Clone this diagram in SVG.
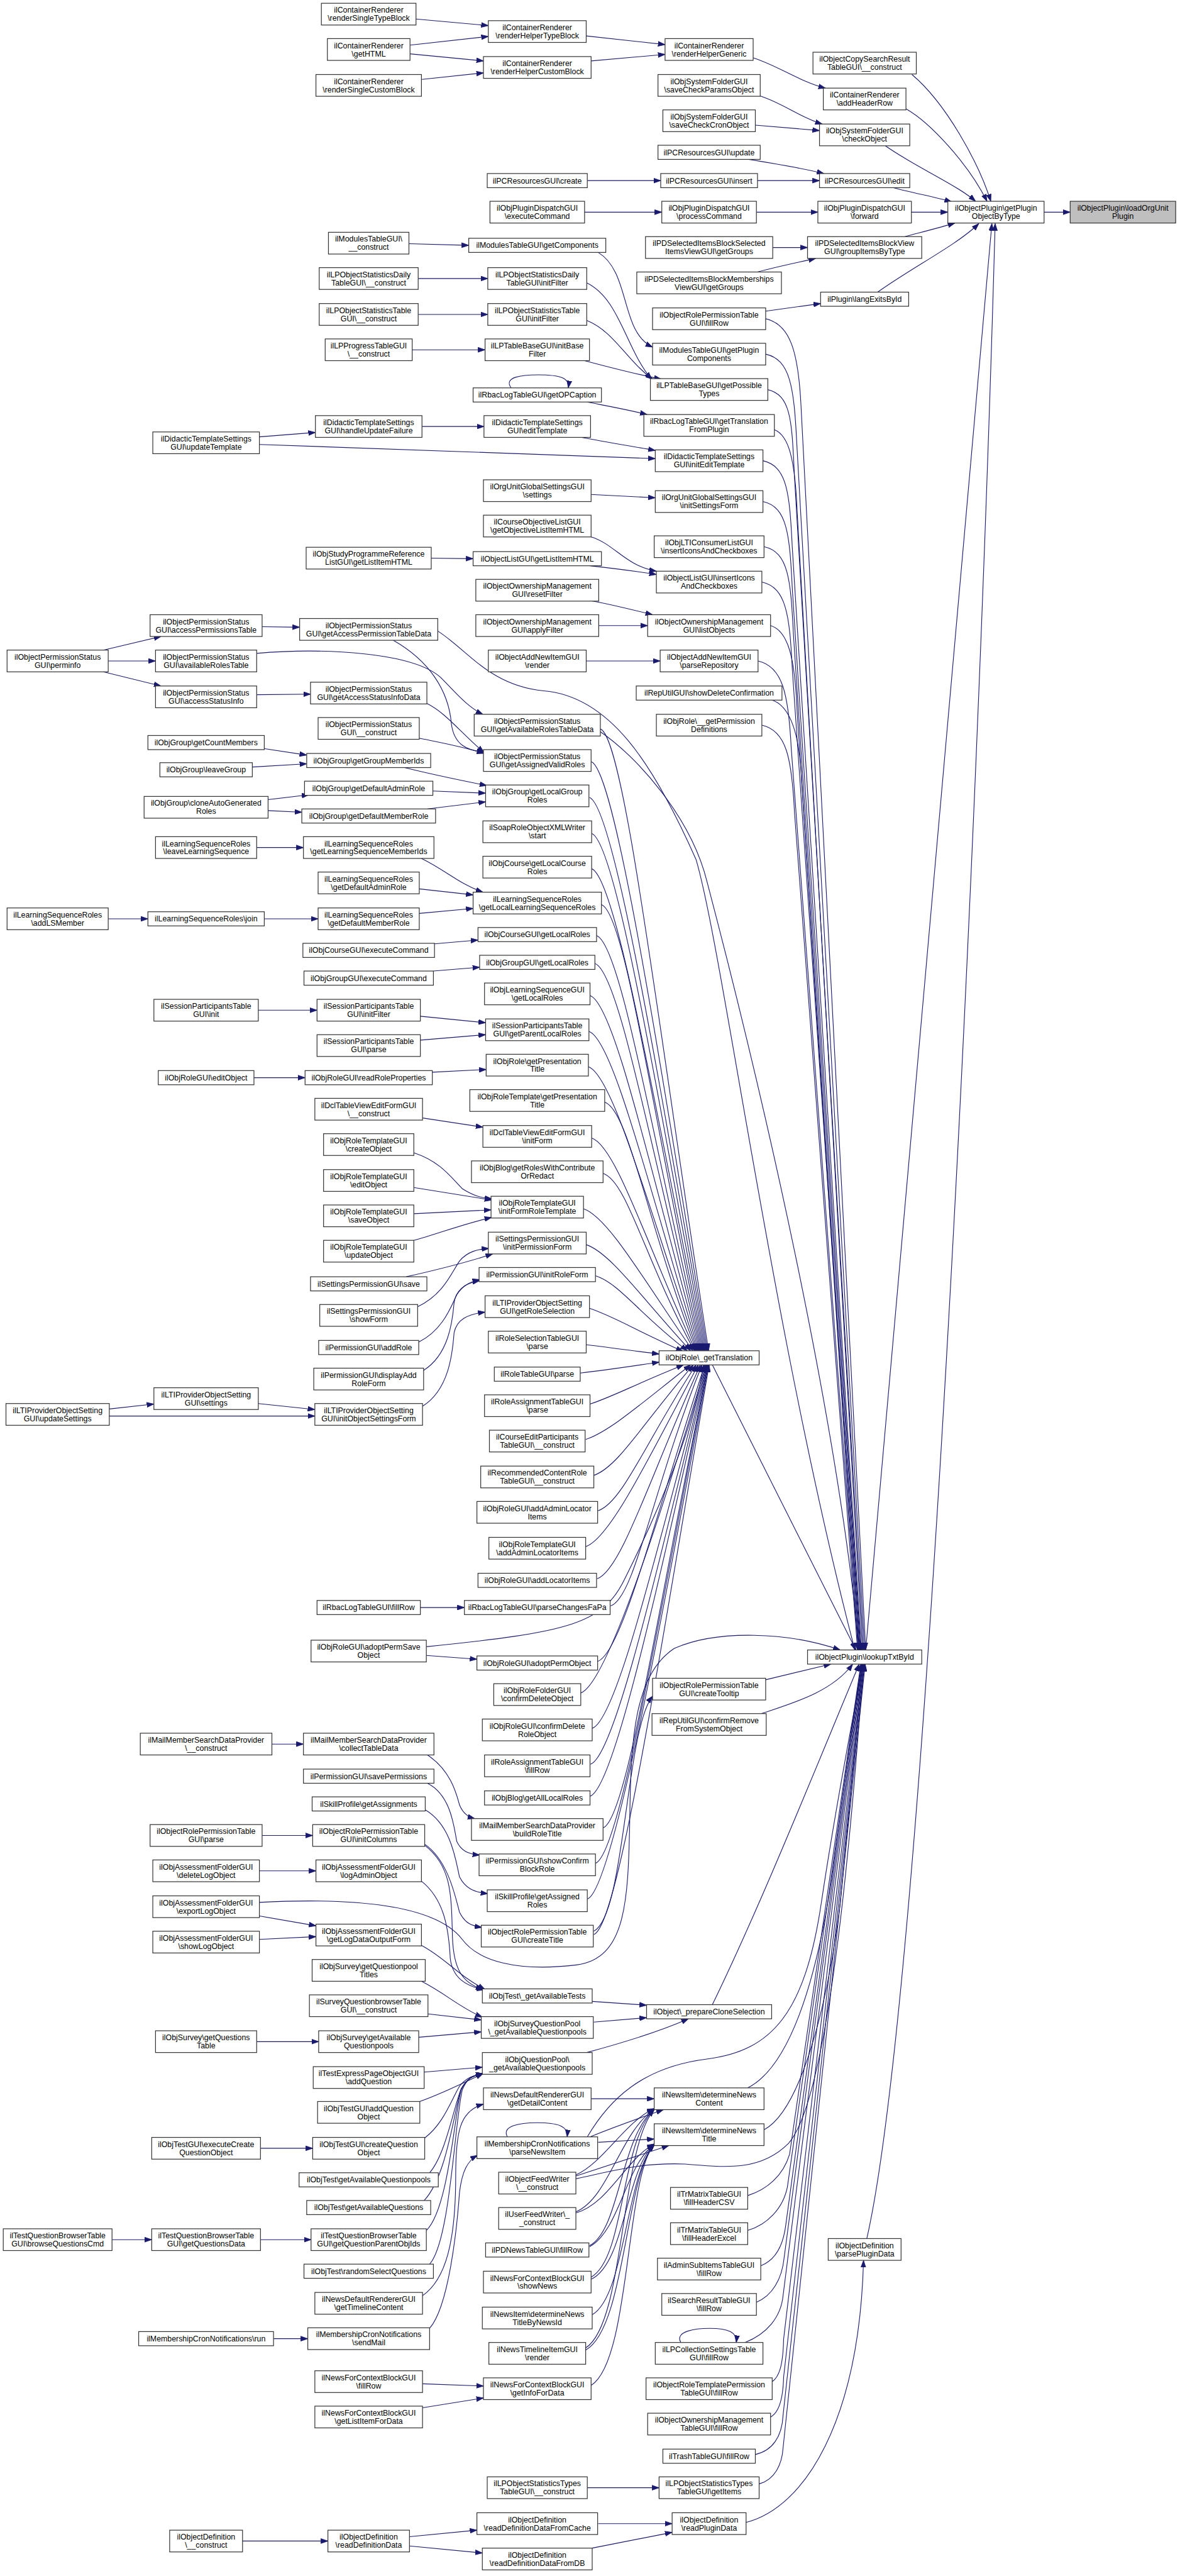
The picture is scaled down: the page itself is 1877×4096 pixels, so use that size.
<svg xmlns="http://www.w3.org/2000/svg" width="1877" height="4096" viewBox="0 0 1877 4096">
<defs>
<style>
.n rect{fill:#fff;stroke:#333;stroke-width:1.4}
.hl rect{fill:#bfbfbf}
.n text{font-family:"Liberation Sans",Arial,Helvetica,sans-serif;font-size:14.3px;text-anchor:middle;fill:#000}
.e path{fill:none;stroke:#191970;stroke-width:1.3;marker-end:url(#a)}
</style>
<marker id="a" markerUnits="userSpaceOnUse" markerWidth="14" markerHeight="10" viewBox="0 0 14 10" refX="13" refY="5" orient="auto"><path d="M0,0.5 L13,5 L0,9.5 z" fill="#191970" stroke="#191970"/></marker>
</defs>
<rect width="1877" height="4096" fill="#fff"/>
<g transform="scale(0.865)">
<g id="edges" class="e">
<path d="M1920,390 L1968,390"/>
<path d="M1677,137 C1740,190 1800,300 1822,370"/>
<path d="M1666,200 C1710,225 1780,300 1815,370"/>
<path d="M1628,268 C1680,305 1760,340 1794,370"/>
<path d="M1643,345 C1680,355 1720,362 1750,371"/>
<path d="M1676,390 L1743,390"/>
<path d="M1664,435 C1690,428 1730,418 1756,410"/>
<path d="M1614,537 C1680,490 1760,450 1800,411"/>
<path d="M1592,3033 L1824,411"/>
<path d="M1594,4115 C1700,3650 1800,1500 1830,411"/>
<path d="M1384,106 C1430,120 1470,150 1518,162"/>
<path d="M1397,176 C1440,190 1470,215 1512,228"/>
<path d="M1389,230 L1507,240"/>
<path d="M1377,293 C1420,300 1480,310 1515,319"/>
<path d="M1393,332 L1507,332"/>
<path d="M1391,390 L1504,390"/>
<path d="M1421,455 L1485,455"/>
<path d="M1393,500 C1430,490 1470,482 1500,475"/>
<path d="M1408,572 L1509,558"/>
<path d="M1371,4637 C1480,4610 1580,4450 1588,4155"/>
<path d="M1078,66 L1223,82"/>
<path d="M1087,112 L1223,100"/>
<path d="M1080,332 L1215,332"/>
<path d="M1075,390 L1217,390"/>
<path d="M1100,464 C1160,500 1140,610 1200,638"/>
<path d="M1079,520 C1140,550 1150,640 1198,697"/>
<path d="M1079,589 C1130,610 1150,660 1200,697"/>
<path d="M1075,663 C1120,675 1170,688 1216,697"/>
<path d="M1080,739 C1110,745 1150,752 1190,762"/>
<path d="M1070,804 C1110,812 1160,820 1205,828"/>
<path d="M477,817 L1205,843"/>
<path d="M1087,909 L1205,915"/>
<path d="M1087,987 C1130,1000 1150,1040 1207,1050"/>
<path d="M1085,1040 C1130,1045 1170,1050 1207,1056"/>
<path d="M1085,1104 C1120,1110 1160,1120 1200,1130"/>
<path d="M1101,1150 L1191,1150"/>
<path d="M1078,1215 L1214,1215"/>
<path d="M1104,1340 C1149,1355 1213,1912 1303,2483"/>
<path d="M1087,1400 C1132,1415 1211,1942 1301,2483"/>
<path d="M1084,1466 C1129,1481 1209,1974 1299,2483"/>
<path d="M1088,1532 C1133,1547 1207,2007 1297,2483"/>
<path d="M1088,1597 C1133,1612 1205,2040 1295,2483"/>
<path d="M1106,1663 C1151,1678 1203,2073 1293,2483"/>
<path d="M1097,1720 C1142,1735 1201,2101 1291,2483"/>
<path d="M1094,1771 C1139,1786 1199,2127 1289,2483"/>
<path d="M1085,1830 C1130,1845 1197,2157 1287,2483"/>
<path d="M1083,1896 C1128,1911 1195,2190 1285,2483"/>
<path d="M1082,1961 C1127,1976 1193,2222 1283,2483"/>
<path d="M1112,2026 C1157,2041 1191,2255 1281,2483"/>
<path d="M1088,2092 C1133,2107 1189,2288 1279,2483"/>
<path d="M1109,2157 C1154,2172 1187,2320 1277,2483"/>
<path d="M1073,2222 C1118,2237 1184,2353 1274,2483"/>
<path d="M1078,2288 C1123,2303 1180,2386 1270,2483"/>
<path d="M1095,2345 C1140,2360 1174,2414 1264,2483"/>
<path d="M1084,2405 C1129,2420 1166,2444 1256,2484"/>
<path d="M1078,2472 C1130,2478 1170,2484 1212,2489"/>
<path d="M1067,2524 C1120,2518 1170,2510 1212,2504"/>
<path d="M1085,2581 C1130,2566 1167,2545 1257,2509"/>
<path d="M1077,2646 C1122,2631 1180,2579 1270,2509"/>
<path d="M1092,2712 C1137,2697 1185,2612 1275,2509"/>
<path d="M1100,2777 C1145,2762 1190,2645 1280,2509"/>
<path d="M1077,2843 C1122,2828 1194,2678 1284,2509"/>
<path d="M1098,2902 C1143,2887 1198,2707 1288,2509"/>
<path d="M1123,2952 C1168,2937 1201,2732 1291,2509"/>
<path d="M784,3027 C1050,3000 1110,2985 1150,2900 C1230,2740 1280,2600 1294,2509"/>
<path d="M1099,3054 C1144,3039 1206,2783 1296,2509"/>
<path d="M1068,3112 C1113,3097 1208,2812 1298,2509"/>
<path d="M1089,3177 C1134,3162 1209,2845 1299,2509"/>
<path d="M1086,3243 C1131,3228 1210,2878 1300,2509"/>
<path d="M1085,3302 C1130,3287 1211,2907 1301,2509"/>
<path d="M1109,3360 C1154,3345 1212,2936 1302,2509"/>
<path d="M1095,3425 C1140,3410 1212,2969 1302,2509"/>
<path d="M1080,3491 C1125,3476 1213,3002 1303,2509"/>
<path d="M1092,3556 C1137,3541 1214,3034 1304,2509"/>
<path d="M1310,2509 L1574,3033"/>
<path d="M1408,586 C1453,596 1468,646 1473,746 L1592,3033"/>
<path d="M1408,651 C1453,661 1460,711 1465,811 L1590,3033"/>
<path d="M1411,716 C1456,726 1456,776 1461,876 L1588,3033"/>
<path d="M1424,790 C1450,800 1462,842 1466,942 L1586,3033"/>
<path d="M1403,847 C1448,857 1452,907 1457,1007 L1584,3033"/>
<path d="M1403,922 C1448,932 1452,982 1457,1082 L1583,3033"/>
<path d="M1405,1005 C1450,1015 1454,1065 1459,1165 L1582,3033"/>
<path d="M1401,1070 C1446,1080 1452,1130 1457,1230 L1581,3033"/>
<path d="M1417,1150 C1450,1160 1462,1210 1466,1310 L1580,3033"/>
<path d="M1394,1215 C1439,1225 1450,1275 1455,1375 L1579,3033"/>
<path d="M1420,1287 C1450,1297 1470,1340 1474,1434 L1578,3033"/>
<path d="M1401,1333 C1446,1343 1456,1393 1461,1493 L1577,3033"/>
<path d="M1104,1345 C1170,1390 1270,1500 1300,1620 C1400,2000 1540,2600 1580,3033"/>
<path d="M805,1160 C860,1195 900,1260 1000,1270 C1120,1280 1200,1400 1280,1580 C1330,1750 1420,2450 1572,3033"/>
<path d="M477,3497 C650,3488 800,3500 850,3565 C880,3605 950,3625 1060,3612 C1150,3600 1155,3500 1158,3350 C1160,3200 1165,3080 1240,3030 C1320,2995 1450,3000 1545,3033"/>
<path d="M1407,3088 C1450,3078 1490,3068 1528,3059"/>
<path d="M1400,3150 C1460,3130 1530,3110 1568,3059"/>
<path d="M1310,3685 C1400,3500 1500,3250 1580,3059"/>
<path d="M1375,3838 C1450,3800 1500,3650 1530,3450 C1550,3300 1570,3150 1584,3059"/>
<path d="M1405,3915 C1470,3880 1520,3700 1545,3500 C1560,3350 1578,3150 1586,3059"/>
<path d="M1080,3928 C1120,3860 1180,3800 1300,3785 C1420,3770 1480,3700 1510,3500 C1540,3300 1570,3150 1587,3059"/>
<path d="M1059,4005 C1130,3990 1180,3975 1260,3978 C1340,3985 1400,3990 1450,3940 C1530,3850 1570,3300 1588,3059"/>
<path d="M1375,4036 C1410,4025 1440,4000 1452,3960 L1583,3059"/>
<path d="M1375,4100 C1410,4090 1440,4060 1448,4020 L1584,3059"/>
<path d="M1399,4165 C1425,4155 1440,4130 1445,4090 L1585,3059"/>
<path d="M1391,4232 C1420,4220 1438,4190 1442,4150 L1586,3059"/>
<path d="M1370,4306 C1410,4290 1436,4260 1440,4220 L1587,3059"/>
<path d="M1420,4378 C1432,4370 1440,4350 1441,4300 L1588,3059"/>
<path d="M1417,4443 C1432,4435 1440,4410 1441,4370 L1589,3059"/>
<path d="M1389,4512 C1420,4505 1438,4480 1440,4440 L1590,3059"/>
<path d="M1396,4566 C1425,4558 1438,4530 1440,4500 L1591,3059"/>
<path d="M1092,3550 C1150,3520 1150,3180 1200,3118"/>
<path d="M1089,3679 L1189,3686"/>
<path d="M1092,3717 L1189,3709"/>
<path d="M1079,3773 C1120,3762 1200,3740 1266,3711"/>
<path d="M1087,3858 L1203,3858"/>
<path d="M1085,3928 C1130,3910 1180,3892 1220,3878"/>
<path d="M1059,3998 C1110,3975 1150,3900 1203,3876"/>
<path d="M1059,4066 C1120,4040 1140,3920 1203,3877"/>
<path d="M1084,4128 C1140,4100 1140,3930 1203,3877"/>
<path d="M1087,4186 C1150,4150 1140,3940 1203,3877"/>
<path d="M1077,4316 C1150,4270 1140,3950 1203,3878"/>
<path d="M1100,3938 L1203,3932"/>
<path d="M1059,4000 L1230,3944"/>
<path d="M1059,4068 C1120,4050 1150,3970 1203,3941"/>
<path d="M1084,4130 C1140,4100 1150,3980 1203,3942"/>
<path d="M1087,4190 C1150,4160 1150,3990 1203,3942"/>
<path d="M1089,4255 C1150,4220 1150,4000 1203,3943"/>
<path d="M1077,4320 C1150,4280 1150,4000 1203,3943"/>
<path d="M1087,4385 C1160,4340 1150,4000 1203,3943"/>
<path d="M940,713 C925,693 960,689 990,689 C1030,689 1048,695 1045,713"/>
<path d="M1252,4306 C1240,4285 1280,4280 1305,4280 C1340,4280 1356,4288 1354,4306"/>
<path d="M933,3928 C922,3908 955,3902 988,3902 C1025,3902 1045,3908 1043,3928"/>
<path d="M1080,4573 L1212,4573"/>
<path d="M1100,4639 L1236,4639"/>
<path d="M1089,4684 L1236,4655"/>
<path d="M765,35 L898,47"/>
<path d="M754,83 L898,67"/>
<path d="M754,99 L889,112"/>
<path d="M776,146 L889,134"/>
<path d="M752,448 L862,451"/>
<path d="M769,512 L897,512"/>
<path d="M769,578 L897,578"/>
<path d="M758,643 L892,643"/>
<path d="M776,784 L890,784"/>
<path d="M793,1026 L870,1027"/>
<path d="M472,1201 C600,1190 760,1200 810,1245 C840,1275 860,1300 888,1313"/>
<path d="M723,1177 C790,1215 825,1270 830,1330 C835,1370 860,1380 890,1382"/>
<path d="M785,1293 C820,1310 850,1350 890,1383"/>
<path d="M771,1357 C810,1365 850,1372 890,1385"/>
<path d="M744,1411 C800,1425 850,1435 895,1444"/>
<path d="M796,1454 L893,1458"/>
<path d="M786,1487 L893,1474"/>
<path d="M775,1578 C820,1600 845,1625 888,1640"/>
<path d="M771,1634 L870,1645"/>
<path d="M771,1679 L870,1670"/>
<path d="M799,1735 L879,1728"/>
<path d="M797,1785 L882,1778"/>
<path d="M773,1868 L893,1880"/>
<path d="M773,1912 L893,1902"/>
<path d="M795,1971 L894,1966"/>
<path d="M777,2055 L888,2072"/>
<path d="M761,2119 C810,2135 830,2165 850,2185 C870,2198 885,2202 905,2204"/>
<path d="M761,2183 L904,2206"/>
<path d="M761,2231 L903,2224"/>
<path d="M761,2280 C800,2270 850,2250 904,2238"/>
<path d="M747,2347 C800,2335 860,2320 906,2305"/>
<path d="M768,2402 C815,2380 830,2340 845,2318 C860,2300 880,2296 899,2295"/>
<path d="M770,2467 C815,2445 830,2400 840,2380 C850,2365 860,2358 882,2354"/>
<path d="M779,2519 C825,2490 832,2430 835,2395 C838,2370 858,2358 882,2352"/>
<path d="M777,2585 C825,2555 832,2490 835,2450 C840,2425 860,2416 892,2412"/>
<path d="M773,2955 L854,2955"/>
<path d="M784,3043 L877,3050"/>
<path d="M786,3226 C830,3255 840,3300 845,3318 C852,3335 862,3340 873,3343"/>
<path d="M786,3278 C830,3300 835,3360 840,3385 C848,3402 860,3408 882,3410"/>
<path d="M782,3327 C830,3355 838,3420 845,3450 C855,3470 870,3478 897,3481"/>
<path d="M781,3390 C825,3420 838,3490 845,3515 C855,3535 866,3540 886,3543"/>
<path d="M781,3392 C830,3430 830,3480 832,3560 C834,3620 850,3645 888,3657"/>
<path d="M775,3458 C815,3490 825,3540 828,3600 C832,3635 855,3650 890,3658"/>
<path d="M775,3576 C820,3600 840,3630 892,3657"/>
<path d="M775,3642 C820,3665 845,3690 887,3708"/>
<path d="M787,3702 L885,3713"/>
<path d="M770,3745 L885,3735"/>
<path d="M780,3809 L887,3800"/>
<path d="M772,3863 C810,3850 850,3830 888,3812"/>
<path d="M781,3930 C815,3905 830,3860 845,3835 C855,3822 865,3816 888,3812"/>
<path d="M790,3994 C820,3960 835,3870 848,3840 C858,3822 868,3815 888,3812"/>
<path d="M780,4045 C822,4000 835,3880 848,3840 C858,3822 868,3815 888,3812"/>
<path d="M784,4100 C825,4060 835,3890 848,3842 C858,3822 868,3815 888,3812"/>
<path d="M790,4162 C828,4120 836,3900 850,3842 C858,3822 868,3815 888,3812"/>
<path d="M777,4220 C820,4190 838,4120 838,4000 C838,3920 845,3880 889,3868"/>
<path d="M790,4280 C825,4240 840,4100 845,4030 C850,3990 860,3972 878,3962"/>
<path d="M777,4382 L889,4386"/>
<path d="M777,4426 L889,4408"/>
<path d="M753,4663 L877,4651"/>
<path d="M753,4680 L887,4693"/>
<path d="M477,803 L580,795"/>
<path d="M482,1152 L551,1153"/>
<path d="M472,1277 L571,1276"/>
<path d="M485,1376 L564,1388"/>
<path d="M464,1410 L564,1404"/>
<path d="M492,1470 L568,1461"/>
<path d="M492,1490 L555,1493"/>
<path d="M472,1558 L558,1558"/>
<path d="M486,1689 L585,1689"/>
<path d="M475,1857 L583,1857"/>
<path d="M467,1981 L561,1981"/>
<path d="M475,2580 L579,2591"/>
<path d="M201,2603 L579,2603"/>
<path d="M500,3206 L558,3206"/>
<path d="M482,3374 L575,3374"/>
<path d="M477,3439 L581,3439"/>
<path d="M477,3522 L581,3540"/>
<path d="M477,3565 L581,3560"/>
<path d="M472,3753 L586,3753"/>
<path d="M479,3949 L575,3949"/>
<path d="M479,4117 L572,4117"/>
<path d="M503,4299 L566,4299"/>
<path d="M446,4671 L603,4671"/>
<path d="M190,1195 L296,1170"/>
<path d="M199,1215 L286,1215"/>
<path d="M190,1235 L296,1261"/>
<path d="M199,1689 L272,1689"/>
<path d="M201,2590 L283,2581"/>
<path d="M206,4117 L279,4117"/>
</g>
<g id="n1" class="n hl"><rect x="1968" y="370" width="194" height="40"/><text x="2065" y="387.5">ilObjectPlugin\loadOrgUnit<tspan x="2065" dy="15">Plugin</tspan></text></g>
<g id="n2" class="n"><rect x="1743" y="370" width="177" height="40"/><text x="1831.5" y="387.5">ilObjectPlugin\getPlugin<tspan x="1831.5" dy="15">ObjectByType</tspan></text></g>
<g id="n3" class="n"><rect x="1495" y="96" width="190" height="40"/><text x="1590" y="113.5">ilObjectCopySearchResult<tspan x="1590" dy="15">TableGUI\__construct</tspan></text></g>
<g id="n4" class="n"><rect x="1514" y="162" width="152" height="40"/><text x="1590" y="179.5">ilContainerRenderer<tspan x="1590" dy="15">\addHeaderRow</tspan></text></g>
<g id="n5" class="n"><rect x="1507" y="228" width="166" height="40"/><text x="1590" y="245.5">ilObjSystemFolderGUI<tspan x="1590" dy="15">\checkObject</tspan></text></g>
<g id="n6" class="n"><rect x="1507" y="319" width="166" height="26"/><text x="1590" y="337">ilPCResourcesGUI\edit</text></g>
<g id="n7" class="n"><rect x="1504" y="370" width="172" height="40"/><text x="1590" y="387.5">ilObjPluginDispatchGUI<tspan x="1590" dy="15">\forward</tspan></text></g>
<g id="n8" class="n"><rect x="1485" y="435" width="210" height="40"/><text x="1590" y="452.5">ilPDSelectedItemsBlockView<tspan x="1590" dy="15">GUI\groupItemsByType</tspan></text></g>
<g id="n9" class="n"><rect x="1509" y="537" width="162" height="26"/><text x="1590" y="555">ilPlugin\langExitsById</text></g>
<g id="n10" class="n"><rect x="1485" y="3033" width="210" height="26"/><text x="1590" y="3051">ilObjectPlugin\lookupTxtById</text></g>
<g id="n11" class="n"><rect x="1523" y="4115" width="134" height="40"/><text x="1590" y="4132.5">ilObjectDefinition<tspan x="1590" dy="15">\parsePluginData</tspan></text></g>
<g id="n12" class="n"><rect x="1223" y="71" width="162" height="40"/><text x="1304" y="88.5">ilContainerRenderer<tspan x="1304" dy="15">\renderHelperGeneric</tspan></text></g>
<g id="n13" class="n"><rect x="1210" y="137" width="188" height="40"/><text x="1304" y="154.5">ilObjSystemFolderGUI<tspan x="1304" dy="15">\saveCheckParamsObject</tspan></text></g>
<g id="n14" class="n"><rect x="1219" y="202" width="170" height="40"/><text x="1304" y="219.5">ilObjSystemFolderGUI<tspan x="1304" dy="15">\saveCheckCronObject</tspan></text></g>
<g id="n15" class="n"><rect x="1210" y="267" width="188" height="26"/><text x="1304" y="285">ilPCResourcesGUI\update</text></g>
<g id="n16" class="n"><rect x="1215" y="319" width="178" height="26"/><text x="1304" y="337">ilPCResourcesGUI\insert</text></g>
<g id="n17" class="n"><rect x="1217" y="370" width="174" height="40"/><text x="1304" y="387.5">ilObjPluginDispatchGUI<tspan x="1304" dy="15">\processCommand</tspan></text></g>
<g id="n18" class="n"><rect x="1187" y="435" width="234" height="40"/><text x="1304" y="452.5">ilPDSelectedItemsBlockSelected<tspan x="1304" dy="15">ItemsViewGUI\getGroups</tspan></text></g>
<g id="n19" class="n"><rect x="1171" y="500" width="266" height="40"/><text x="1304" y="517.5">ilPDSelectedItemsBlockMemberships<tspan x="1304" dy="15">ViewGUI\getGroups</tspan></text></g>
<g id="n20" class="n"><rect x="1200" y="566" width="208" height="40"/><text x="1304" y="583.5">ilObjectRolePermissionTable<tspan x="1304" dy="15">GUI\fillRow</tspan></text></g>
<g id="n21" class="n"><rect x="1200" y="631" width="208" height="40"/><text x="1304" y="648.5">ilModulesTableGUI\getPlugin<tspan x="1304" dy="15">Components</tspan></text></g>
<g id="n22" class="n"><rect x="1196" y="696" width="216" height="40"/><text x="1304" y="713.5">ilLPTableBaseGUI\getPossible<tspan x="1304" dy="15">Types</tspan></text></g>
<g id="n23" class="n"><rect x="1184" y="762" width="240" height="40"/><text x="1304" y="779.5">ilRbacLogTableGUI\getTranslation<tspan x="1304" dy="15">FromPlugin</tspan></text></g>
<g id="n24" class="n"><rect x="1205" y="827" width="198" height="40"/><text x="1304" y="844.5">ilDidacticTemplateSettings<tspan x="1304" dy="15">GUI\initEditTemplate</tspan></text></g>
<g id="n25" class="n"><rect x="1205" y="902" width="198" height="40"/><text x="1304" y="919.5">ilOrgUnitGlobalSettingsGUI<tspan x="1304" dy="15">\initSettingsForm</tspan></text></g>
<g id="n26" class="n"><rect x="1203" y="985" width="202" height="40"/><text x="1304" y="1002.5">ilObjLTIConsumerListGUI<tspan x="1304" dy="15">\insertIconsAndCheckboxes</tspan></text></g>
<g id="n27" class="n"><rect x="1207" y="1050" width="194" height="40"/><text x="1304" y="1067.5">ilObjectListGUI\insertIcons<tspan x="1304" dy="15">AndCheckboxes</tspan></text></g>
<g id="n28" class="n"><rect x="1191" y="1130" width="226" height="40"/><text x="1304" y="1147.5">ilObjectOwnershipManagement<tspan x="1304" dy="15">GUI\listObjects</tspan></text></g>
<g id="n29" class="n"><rect x="1214" y="1195" width="180" height="40"/><text x="1304" y="1212.5">ilObjectAddNewItemGUI<tspan x="1304" dy="15">\parseRepository</tspan></text></g>
<g id="n30" class="n"><rect x="1170" y="1261" width="268" height="26"/><text x="1304" y="1279">ilRepUtilGUI\showDeleteConfirmation</text></g>
<g id="n31" class="n"><rect x="1207" y="1313" width="194" height="40"/><text x="1304" y="1330.5">ilObjRole\__getPermission<tspan x="1304" dy="15">Definitions</tspan></text></g>
<g id="n32" class="n"><rect x="1212" y="2483" width="184" height="26"/><text x="1304" y="2501">ilObjRole\_getTranslation</text></g>
<g id="n33" class="n"><rect x="1200" y="3085" width="208" height="40"/><text x="1304" y="3102.5">ilObjectRolePermissionTable<tspan x="1304" dy="15">GUI\createTooltip</tspan></text></g>
<g id="n34" class="n"><rect x="1199" y="3150" width="210" height="40"/><text x="1304" y="3167.5">ilRepUtilGUI\confirmRemove<tspan x="1304" dy="15">FromSystemObject</tspan></text></g>
<g id="n35" class="n"><rect x="1189" y="3685" width="230" height="26"/><text x="1304" y="3703">ilObject\_prepareCloneSelection</text></g>
<g id="n36" class="n"><rect x="1203" y="3838" width="202" height="40"/><text x="1304" y="3855.5">ilNewsItem\determineNews<tspan x="1304" dy="15">Content</tspan></text></g>
<g id="n37" class="n"><rect x="1203" y="3904" width="202" height="40"/><text x="1304" y="3921.5">ilNewsItem\determineNews<tspan x="1304" dy="15">Title</tspan></text></g>
<g id="n38" class="n"><rect x="1233" y="4021" width="142" height="40"/><text x="1304" y="4038.5">ilTrMatrixTableGUI<tspan x="1304" dy="15">\fillHeaderCSV</tspan></text></g>
<g id="n39" class="n"><rect x="1233" y="4086" width="142" height="40"/><text x="1304" y="4103.5">ilTrMatrixTableGUI<tspan x="1304" dy="15">\fillHeaderExcel</tspan></text></g>
<g id="n40" class="n"><rect x="1209" y="4151" width="190" height="40"/><text x="1304" y="4168.5">ilAdminSubItemsTableGUI<tspan x="1304" dy="15">\fillRow</tspan></text></g>
<g id="n41" class="n"><rect x="1217" y="4216" width="174" height="40"/><text x="1304" y="4233.5">ilSearchResultTableGUI<tspan x="1304" dy="15">\fillRow</tspan></text></g>
<g id="n42" class="n"><rect x="1205" y="4306" width="198" height="40"/><text x="1304" y="4323.5">ilLPCollectionSettingsTable<tspan x="1304" dy="15">GUI\fillRow</tspan></text></g>
<g id="n43" class="n"><rect x="1188" y="4371" width="232" height="40"/><text x="1304" y="4388.5">ilObjectRoleTemplatePermission<tspan x="1304" dy="15">TableGUI\fillRow</tspan></text></g>
<g id="n44" class="n"><rect x="1191" y="4436" width="226" height="40"/><text x="1304" y="4453.5">ilObjectOwnershipManagement<tspan x="1304" dy="15">TableGUI\fillRow</tspan></text></g>
<g id="n45" class="n"><rect x="1219" y="4502" width="170" height="26"/><text x="1304" y="4520">ilTrashTableGUI\fillRow</text></g>
<g id="n46" class="n"><rect x="1212" y="4553" width="184" height="40"/><text x="1304" y="4570.5">ilLPObjectStatisticsTypes<tspan x="1304" dy="15">TableGUI\getItems</tspan></text></g>
<g id="n47" class="n"><rect x="1236" y="4619" width="136" height="40"/><text x="1304" y="4636.5">ilObjectDefinition<tspan x="1304" dy="15">\readPluginData</tspan></text></g>
<g id="n48" class="n"><rect x="898" y="38" width="180" height="40"/><text x="988" y="55.5">ilContainerRenderer<tspan x="988" dy="15">\renderHelperTypeBlock</tspan></text></g>
<g id="n49" class="n"><rect x="889" y="104" width="198" height="40"/><text x="988" y="121.5">ilContainerRenderer<tspan x="988" dy="15">\renderHelperCustomBlock</tspan></text></g>
<g id="n50" class="n"><rect x="896" y="319" width="184" height="26"/><text x="988" y="337">ilPCResourcesGUI\create</text></g>
<g id="n51" class="n"><rect x="901" y="370" width="174" height="40"/><text x="988" y="387.5">ilObjPluginDispatchGUI<tspan x="988" dy="15">\executeCommand</tspan></text></g>
<g id="n52" class="n"><rect x="862" y="438" width="252" height="26"/><text x="988" y="456">ilModulesTableGUI\getComponents</text></g>
<g id="n53" class="n"><rect x="897" y="492" width="182" height="40"/><text x="988" y="509.5">ilLPObjectStatisticsDaily<tspan x="988" dy="15">TableGUI\initFilter</tspan></text></g>
<g id="n54" class="n"><rect x="897" y="558" width="182" height="40"/><text x="988" y="575.5">ilLPObjectStatisticsTable<tspan x="988" dy="15">GUI\initFilter</tspan></text></g>
<g id="n55" class="n"><rect x="892" y="623" width="192" height="40"/><text x="988" y="640.5">ilLPTableBaseGUI\initBase<tspan x="988" dy="15">Filter</tspan></text></g>
<g id="n56" class="n"><rect x="870" y="713" width="236" height="26"/><text x="988" y="731">ilRbacLogTableGUI\getOPCaption</text></g>
<g id="n57" class="n"><rect x="890" y="764" width="196" height="40"/><text x="988" y="781.5">ilDidacticTemplateSettings<tspan x="988" dy="15">GUI\editTemplate</tspan></text></g>
<g id="n58" class="n"><rect x="889" y="882" width="198" height="40"/><text x="988" y="899.5">ilOrgUnitGlobalSettingsGUI<tspan x="988" dy="15">\settings</tspan></text></g>
<g id="n59" class="n"><rect x="889" y="947" width="198" height="40"/><text x="988" y="964.5">ilCourseObjectiveListGUI<tspan x="988" dy="15">\getObjectiveListItemHTML</tspan></text></g>
<g id="n60" class="n"><rect x="870" y="1014" width="236" height="26"/><text x="988" y="1032">ilObjectListGUI\getListItemHTML</text></g>
<g id="n61" class="n"><rect x="875" y="1065" width="226" height="40"/><text x="988" y="1082.5">ilObjectOwnershipManagement<tspan x="988" dy="15">GUI\resetFilter</tspan></text></g>
<g id="n62" class="n"><rect x="875" y="1130" width="226" height="40"/><text x="988" y="1147.5">ilObjectOwnershipManagement<tspan x="988" dy="15">GUI\applyFilter</tspan></text></g>
<g id="n63" class="n"><rect x="898" y="1195" width="180" height="40"/><text x="988" y="1212.5">ilObjectAddNewItemGUI<tspan x="988" dy="15">\render</tspan></text></g>
<g id="n64" class="n"><rect x="872" y="1313" width="232" height="40"/><text x="988" y="1330.5">ilObjectPermissionStatus<tspan x="988" dy="15">GUI\getAvailableRolesTableData</tspan></text></g>
<g id="n65" class="n"><rect x="889" y="1378" width="198" height="40"/><text x="988" y="1395.5">ilObjectPermissionStatus<tspan x="988" dy="15">GUI\getAssignedValidRoles</tspan></text></g>
<g id="n66" class="n"><rect x="893" y="1443" width="190" height="40"/><text x="988" y="1460.5">ilObjGroup\getLocalGroup<tspan x="988" dy="15">Roles</tspan></text></g>
<g id="n67" class="n"><rect x="888" y="1509" width="200" height="40"/><text x="988" y="1526.5">ilSoapRoleObjectXMLWriter<tspan x="988" dy="15">\start</tspan></text></g>
<g id="n68" class="n"><rect x="888" y="1574" width="200" height="40"/><text x="988" y="1591.5">ilObjCourse\getLocalCourse<tspan x="988" dy="15">Roles</tspan></text></g>
<g id="n69" class="n"><rect x="870" y="1640" width="236" height="40"/><text x="988" y="1657.5">ilLearningSequenceRoles<tspan x="988" dy="15">\getLocalLearningSequenceRoles</tspan></text></g>
<g id="n70" class="n"><rect x="879" y="1705" width="218" height="26"/><text x="988" y="1723">ilObjCourseGUI\getLocalRoles</text></g>
<g id="n71" class="n"><rect x="882" y="1756" width="212" height="26"/><text x="988" y="1774">ilObjGroupGUI\getLocalRoles</text></g>
<g id="n72" class="n"><rect x="891" y="1807" width="194" height="40"/><text x="988" y="1824.5">ilObjLearningSequenceGUI<tspan x="988" dy="15">\getLocalRoles</tspan></text></g>
<g id="n73" class="n"><rect x="893" y="1873" width="190" height="40"/><text x="988" y="1890.5">ilSessionParticipantsTable<tspan x="988" dy="15">GUI\getParentLocalRoles</tspan></text></g>
<g id="n74" class="n"><rect x="894" y="1938" width="188" height="40"/><text x="988" y="1955.5">ilObjRole\getPresentation<tspan x="988" dy="15">Title</tspan></text></g>
<g id="n75" class="n"><rect x="864" y="2003" width="248" height="40"/><text x="988" y="2020.5">ilObjRoleTemplate\getPresentation<tspan x="988" dy="15">Title</tspan></text></g>
<g id="n76" class="n"><rect x="888" y="2069" width="200" height="40"/><text x="988" y="2086.5">ilDclTableViewEditFormGUI<tspan x="988" dy="15">\initForm</tspan></text></g>
<g id="n77" class="n"><rect x="867" y="2134" width="242" height="40"/><text x="988" y="2151.5">ilObjBlog\getRolesWithContribute<tspan x="988" dy="15">OrRedact</tspan></text></g>
<g id="n78" class="n"><rect x="903" y="2199" width="170" height="40"/><text x="988" y="2216.5">ilObjRoleTemplateGUI<tspan x="988" dy="15">\initFormRoleTemplate</tspan></text></g>
<g id="n79" class="n"><rect x="898" y="2265" width="180" height="40"/><text x="988" y="2282.5">ilSettingsPermissionGUI<tspan x="988" dy="15">\initPermissionForm</tspan></text></g>
<g id="n80" class="n"><rect x="881" y="2330" width="214" height="26"/><text x="988" y="2348">ilPermissionGUI\initRoleForm</text></g>
<g id="n81" class="n"><rect x="892" y="2382" width="192" height="40"/><text x="988" y="2399.5">ilLTIProviderObjectSetting<tspan x="988" dy="15">GUI\getRoleSelection</tspan></text></g>
<g id="n82" class="n"><rect x="898" y="2447" width="180" height="40"/><text x="988" y="2464.5">ilRoleSelectionTableGUI<tspan x="988" dy="15">\parse</tspan></text></g>
<g id="n83" class="n"><rect x="909" y="2513" width="158" height="26"/><text x="988" y="2531">ilRoleTableGUI\parse</text></g>
<g id="n84" class="n"><rect x="891" y="2564" width="194" height="40"/><text x="988" y="2581.5">ilRoleAssignmentTableGUI<tspan x="988" dy="15">\parse</tspan></text></g>
<g id="n85" class="n"><rect x="900" y="2629" width="176" height="40"/><text x="988" y="2646.5">ilCourseEditParticipants<tspan x="988" dy="15">TableGUI\__construct</tspan></text></g>
<g id="n86" class="n"><rect x="884" y="2695" width="208" height="40"/><text x="988" y="2712.5">ilRecommendedContentRole<tspan x="988" dy="15">TableGUI\__construct</tspan></text></g>
<g id="n87" class="n"><rect x="877" y="2760" width="222" height="40"/><text x="988" y="2777.5">ilObjRoleGUI\addAdminLocator<tspan x="988" dy="15">Items</tspan></text></g>
<g id="n88" class="n"><rect x="899" y="2826" width="178" height="40"/><text x="988" y="2843.5">ilObjRoleTemplateGUI<tspan x="988" dy="15">\addAdminLocatorItems</tspan></text></g>
<g id="n89" class="n"><rect x="879" y="2892" width="218" height="26"/><text x="988" y="2910">ilObjRoleGUI\addLocatorItems</text></g>
<g id="n90" class="n"><rect x="854" y="2942" width="268" height="26"/><text x="988" y="2960">ilRbacLogTableGUI\parseChangesFaPa</text></g>
<g id="n91" class="n"><rect x="877" y="3044" width="222" height="26"/><text x="988" y="3062">ilObjRoleGUI\adoptPermObject</text></g>
<g id="n92" class="n"><rect x="908" y="3095" width="160" height="40"/><text x="988" y="3112.5">ilObjRoleFolderGUI<tspan x="988" dy="15">\confirmDeleteObject</tspan></text></g>
<g id="n93" class="n"><rect x="887" y="3160" width="202" height="40"/><text x="988" y="3177.5">ilObjRoleGUI\confirmDelete<tspan x="988" dy="15">RoleObject</tspan></text></g>
<g id="n94" class="n"><rect x="891" y="3226" width="194" height="40"/><text x="988" y="3243.5">ilRoleAssignmentTableGUI<tspan x="988" dy="15">\fillRow</tspan></text></g>
<g id="n95" class="n"><rect x="891" y="3292" width="194" height="26"/><text x="988" y="3310">ilObjBlog\getAllLocalRoles</text></g>
<g id="n96" class="n"><rect x="867" y="3343" width="242" height="40"/><text x="988" y="3360.5">ilMailMemberSearchDataProvider<tspan x="988" dy="15">\buildRoleTitle</tspan></text></g>
<g id="n97" class="n"><rect x="881" y="3408" width="214" height="40"/><text x="988" y="3425.5">ilPermissionGUI\showConfirm<tspan x="988" dy="15">BlockRole</tspan></text></g>
<g id="n98" class="n"><rect x="896" y="3474" width="184" height="40"/><text x="988" y="3491.5">ilSkillProfile\getAssigned<tspan x="988" dy="15">Roles</tspan></text></g>
<g id="n99" class="n"><rect x="885" y="3539" width="206" height="40"/><text x="988" y="3556.5">ilObjectRolePermissionTable<tspan x="988" dy="15">GUI\createTitle</tspan></text></g>
<g id="n100" class="n"><rect x="887" y="3656" width="202" height="26"/><text x="988" y="3674">ilObjTest\_getAvailableTests</text></g>
<g id="n101" class="n"><rect x="885" y="3707" width="206" height="40"/><text x="988" y="3724.5">ilObjSurveyQuestionPool<tspan x="988" dy="15">\_getAvailableQuestionpools</tspan></text></g>
<g id="n102" class="n"><rect x="887" y="3773" width="202" height="40"/><text x="988" y="3790.5">ilObjQuestionPool\<tspan x="988" dy="15">_getAvailableQuestionpools</tspan></text></g>
<g id="n103" class="n"><rect x="889" y="3838" width="198" height="40"/><text x="988" y="3855.5">ilNewsDefaultRendererGUI<tspan x="988" dy="15">\getDetailContent</tspan></text></g>
<g id="n104" class="n"><rect x="877" y="3928" width="222" height="40"/><text x="988" y="3945.5">ilMembershipCronNotifications<tspan x="988" dy="15">\parseNewsItem</tspan></text></g>
<g id="n105" class="n"><rect x="917" y="3993" width="142" height="40"/><text x="988" y="4010.5">ilObjectFeedWriter<tspan x="988" dy="15">\__construct</tspan></text></g>
<g id="n106" class="n"><rect x="917" y="4058" width="142" height="40"/><text x="988" y="4075.5">ilUserFeedWriter\_<tspan x="988" dy="15">_construct</tspan></text></g>
<g id="n107" class="n"><rect x="893" y="4123" width="190" height="26"/><text x="988" y="4141">ilPDNewsTableGUI\fillRow</text></g>
<g id="n108" class="n"><rect x="889" y="4175" width="198" height="40"/><text x="988" y="4192.5">ilNewsForContextBlockGUI<tspan x="988" dy="15">\showNews</tspan></text></g>
<g id="n109" class="n"><rect x="887" y="4241" width="202" height="40"/><text x="988" y="4258.5">ilNewsItem\determineNews<tspan x="988" dy="15">TitleByNewsId</tspan></text></g>
<g id="n110" class="n"><rect x="899" y="4306" width="178" height="40"/><text x="988" y="4323.5">ilNewsTimelineItemGUI<tspan x="988" dy="15">\render</tspan></text></g>
<g id="n111" class="n"><rect x="889" y="4371" width="198" height="40"/><text x="988" y="4388.5">ilNewsForContextBlockGUI<tspan x="988" dy="15">\getInfoForData</tspan></text></g>
<g id="n112" class="n"><rect x="896" y="4553" width="184" height="40"/><text x="988" y="4570.5">ilLPObjectStatisticsTypes<tspan x="988" dy="15">TableGUI\__construct</tspan></text></g>
<g id="n113" class="n"><rect x="877" y="4619" width="222" height="40"/><text x="988" y="4636.5">ilObjectDefinition<tspan x="988" dy="15">\readDefinitionDataFromCache</tspan></text></g>
<g id="n114" class="n"><rect x="887" y="4684" width="202" height="40"/><text x="988" y="4701.5">ilObjectDefinition<tspan x="988" dy="15">\readDefinitionDataFromDB</tspan></text></g>
<g id="n115" class="n"><rect x="591" y="6" width="174" height="40"/><text x="678" y="23.5">ilContainerRenderer<tspan x="678" dy="15">\renderSingleTypeBlock</tspan></text></g>
<g id="n116" class="n"><rect x="602" y="71" width="152" height="40"/><text x="678" y="88.5">ilContainerRenderer<tspan x="678" dy="15">\getHTML</tspan></text></g>
<g id="n117" class="n"><rect x="581" y="137" width="194" height="40"/><text x="678" y="154.5">ilContainerRenderer<tspan x="678" dy="15">\renderSingleCustomBlock</tspan></text></g>
<g id="n118" class="n"><rect x="604" y="427" width="148" height="40"/><text x="678" y="444.5">ilModulesTableGUI\<tspan x="678" dy="15">__construct</tspan></text></g>
<g id="n119" class="n"><rect x="587" y="492" width="182" height="40"/><text x="678" y="509.5">ilLPObjectStatisticsDaily<tspan x="678" dy="15">TableGUI\__construct</tspan></text></g>
<g id="n120" class="n"><rect x="587" y="558" width="182" height="40"/><text x="678" y="575.5">ilLPObjectStatisticsTable<tspan x="678" dy="15">GUI\__construct</tspan></text></g>
<g id="n121" class="n"><rect x="598" y="623" width="160" height="40"/><text x="678" y="640.5">ilLPProgressTableGUI<tspan x="678" dy="15">\__construct</tspan></text></g>
<g id="n122" class="n"><rect x="580" y="764" width="196" height="40"/><text x="678" y="781.5">ilDidacticTemplateSettings<tspan x="678" dy="15">GUI\handleUpdateFailure</tspan></text></g>
<g id="n123" class="n"><rect x="563" y="1006" width="230" height="40"/><text x="678" y="1023.5">ilObjStudyProgrammeReference<tspan x="678" dy="15">ListGUI\getListItemHTML</tspan></text></g>
<g id="n124" class="n"><rect x="551" y="1137" width="254" height="40"/><text x="678" y="1154.5">ilObjectPermissionStatus<tspan x="678" dy="15">GUI\getAccessPermissionTableData</tspan></text></g>
<g id="n125" class="n"><rect x="571" y="1254" width="214" height="40"/><text x="678" y="1271.5">ilObjectPermissionStatus<tspan x="678" dy="15">GUI\getAccessStatusInfoData</tspan></text></g>
<g id="n126" class="n"><rect x="585" y="1319" width="186" height="40"/><text x="678" y="1336.5">ilObjectPermissionStatus<tspan x="678" dy="15">GUI\__construct</tspan></text></g>
<g id="n127" class="n"><rect x="564" y="1385" width="228" height="26"/><text x="678" y="1403">ilObjGroup\getGroupMemberIds</text></g>
<g id="n128" class="n"><rect x="560" y="1436" width="236" height="26"/><text x="678" y="1454">ilObjGroup\getDefaultAdminRole</text></g>
<g id="n129" class="n"><rect x="555" y="1487" width="246" height="26"/><text x="678" y="1505">ilObjGroup\getDefaultMemberRole</text></g>
<g id="n130" class="n"><rect x="558" y="1538" width="240" height="40"/><text x="678" y="1555.5">ilLearningSequenceRoles<tspan x="678" dy="15">\getLearningSequenceMemberIds</tspan></text></g>
<g id="n131" class="n"><rect x="585" y="1603" width="186" height="40"/><text x="678" y="1620.5">ilLearningSequenceRoles<tspan x="678" dy="15">\getDefaultAdminRole</tspan></text></g>
<g id="n132" class="n"><rect x="585" y="1669" width="186" height="40"/><text x="678" y="1686.5">ilLearningSequenceRoles<tspan x="678" dy="15">\getDefaultMemberRole</tspan></text></g>
<g id="n133" class="n"><rect x="557" y="1734" width="242" height="26"/><text x="678" y="1752">ilObjCourseGUI\executeCommand</text></g>
<g id="n134" class="n"><rect x="559" y="1785" width="238" height="26"/><text x="678" y="1803">ilObjGroupGUI\executeCommand</text></g>
<g id="n135" class="n"><rect x="583" y="1837" width="190" height="40"/><text x="678" y="1854.5">ilSessionParticipantsTable<tspan x="678" dy="15">GUI\initFilter</tspan></text></g>
<g id="n136" class="n"><rect x="583" y="1902" width="190" height="40"/><text x="678" y="1919.5">ilSessionParticipantsTable<tspan x="678" dy="15">GUI\parse</tspan></text></g>
<g id="n137" class="n"><rect x="561" y="1968" width="234" height="26"/><text x="678" y="1986">ilObjRoleGUI\readRoleProperties</text></g>
<g id="n138" class="n"><rect x="579" y="2019" width="198" height="40"/><text x="678" y="2036.5">ilDclTableViewEditFormGUI<tspan x="678" dy="15">\__construct</tspan></text></g>
<g id="n139" class="n"><rect x="595" y="2084" width="166" height="40"/><text x="678" y="2101.5">ilObjRoleTemplateGUI<tspan x="678" dy="15">\createObject</tspan></text></g>
<g id="n140" class="n"><rect x="595" y="2150" width="166" height="40"/><text x="678" y="2167.5">ilObjRoleTemplateGUI<tspan x="678" dy="15">\editObject</tspan></text></g>
<g id="n141" class="n"><rect x="595" y="2215" width="166" height="40"/><text x="678" y="2232.5">ilObjRoleTemplateGUI<tspan x="678" dy="15">\saveObject</tspan></text></g>
<g id="n142" class="n"><rect x="595" y="2280" width="166" height="40"/><text x="678" y="2297.5">ilObjRoleTemplateGUI<tspan x="678" dy="15">\updateObject</tspan></text></g>
<g id="n143" class="n"><rect x="571" y="2347" width="214" height="26"/><text x="678" y="2365">ilSettingsPermissionGUI\save</text></g>
<g id="n144" class="n"><rect x="588" y="2398" width="180" height="40"/><text x="678" y="2415.5">ilSettingsPermissionGUI<tspan x="678" dy="15">\showForm</tspan></text></g>
<g id="n145" class="n"><rect x="586" y="2464" width="184" height="26"/><text x="678" y="2482">ilPermissionGUI\addRole</text></g>
<g id="n146" class="n"><rect x="577" y="2515" width="202" height="40"/><text x="678" y="2532.5">ilPermissionGUI\displayAdd<tspan x="678" dy="15">RoleForm</tspan></text></g>
<g id="n147" class="n"><rect x="579" y="2580" width="198" height="40"/><text x="678" y="2597.5">ilLTIProviderObjectSetting<tspan x="678" dy="15">GUI\initObjectSettingsForm</tspan></text></g>
<g id="n148" class="n"><rect x="583" y="2942" width="190" height="26"/><text x="678" y="2960">ilRbacLogTableGUI\fillRow</text></g>
<g id="n149" class="n"><rect x="572" y="3015" width="212" height="40"/><text x="678" y="3032.5">ilObjRoleGUI\adoptPermSave<tspan x="678" dy="15">Object</tspan></text></g>
<g id="n150" class="n"><rect x="558" y="3186" width="240" height="40"/><text x="678" y="3203.5">ilMailMemberSearchDataProvider<tspan x="678" dy="15">\collectTableData</tspan></text></g>
<g id="n151" class="n"><rect x="558" y="3252" width="240" height="26"/><text x="678" y="3270">ilPermissionGUI\savePermissions</text></g>
<g id="n152" class="n"><rect x="574" y="3303" width="208" height="26"/><text x="678" y="3321">ilSkillProfile\getAssignments</text></g>
<g id="n153" class="n"><rect x="575" y="3354" width="206" height="40"/><text x="678" y="3371.5">ilObjectRolePermissionTable<tspan x="678" dy="15">GUI\initColumns</tspan></text></g>
<g id="n154" class="n"><rect x="581" y="3419" width="194" height="40"/><text x="678" y="3436.5">ilObjAssessmentFolderGUI<tspan x="678" dy="15">\logAdminObject</tspan></text></g>
<g id="n155" class="n"><rect x="581" y="3537" width="194" height="40"/><text x="678" y="3554.5">ilObjAssessmentFolderGUI<tspan x="678" dy="15">\getLogDataOutputForm</tspan></text></g>
<g id="n156" class="n"><rect x="574" y="3602" width="208" height="40"/><text x="678" y="3619.5">ilObjSurvey\getQuestionpool<tspan x="678" dy="15">Titles</tspan></text></g>
<g id="n157" class="n"><rect x="569" y="3667" width="218" height="40"/><text x="678" y="3684.5">ilSurveyQuestionbrowserTable<tspan x="678" dy="15">GUI\__construct</tspan></text></g>
<g id="n158" class="n"><rect x="586" y="3733" width="184" height="40"/><text x="678" y="3750.5">ilObjSurvey\getAvailable<tspan x="678" dy="15">Questionpools</tspan></text></g>
<g id="n159" class="n"><rect x="576" y="3799" width="204" height="40"/><text x="678" y="3816.5">ilTestExpressPageObjectGUI<tspan x="678" dy="15">\addQuestion</tspan></text></g>
<g id="n160" class="n"><rect x="584" y="3863" width="188" height="40"/><text x="678" y="3880.5">ilObjTestGUI\addQuestion<tspan x="678" dy="15">Object</tspan></text></g>
<g id="n161" class="n"><rect x="575" y="3929" width="206" height="40"/><text x="678" y="3946.5">ilObjTestGUI\createQuestion<tspan x="678" dy="15">Object</tspan></text></g>
<g id="n162" class="n"><rect x="550" y="3994" width="256" height="26"/><text x="678" y="4012">ilObjTest\getAvailableQuestionpools</text></g>
<g id="n163" class="n"><rect x="564" y="4045" width="228" height="26"/><text x="678" y="4063">ilObjTest\getAvailableQuestions</text></g>
<g id="n164" class="n"><rect x="572" y="4097" width="212" height="40"/><text x="678" y="4114.5">ilTestQuestionBrowserTable<tspan x="678" dy="15">GUI\getQuestionParentObjIds</tspan></text></g>
<g id="n165" class="n"><rect x="559" y="4162" width="238" height="26"/><text x="678" y="4180">ilObjTest\randomSelectQuestions</text></g>
<g id="n166" class="n"><rect x="579" y="4214" width="198" height="40"/><text x="678" y="4231.5">ilNewsDefaultRendererGUI<tspan x="678" dy="15">\getTimelineContent</tspan></text></g>
<g id="n167" class="n"><rect x="566" y="4279" width="224" height="40"/><text x="678" y="4296.5">ilMembershipCronNotifications<tspan x="678" dy="15">\sendMail</tspan></text></g>
<g id="n168" class="n"><rect x="579" y="4358" width="198" height="40"/><text x="678" y="4375.5">ilNewsForContextBlockGUI<tspan x="678" dy="15">\fillRow</tspan></text></g>
<g id="n169" class="n"><rect x="579" y="4423" width="198" height="40"/><text x="678" y="4440.5">ilNewsForContextBlockGUI<tspan x="678" dy="15">\getListItemForData</tspan></text></g>
<g id="n170" class="n"><rect x="603" y="4651" width="150" height="40"/><text x="678" y="4668.5">ilObjectDefinition<tspan x="678" dy="15">\readDefinitionData</tspan></text></g>
<g id="n171" class="n"><rect x="281" y="794" width="196" height="40"/><text x="379" y="811.5">ilDidacticTemplateSettings<tspan x="379" dy="15">GUI\updateTemplate</tspan></text></g>
<g id="n172" class="n"><rect x="276" y="1130" width="206" height="40"/><text x="379" y="1147.5">ilObjectPermissionStatus<tspan x="379" dy="15">GUI\accessPermissionsTable</tspan></text></g>
<g id="n173" class="n"><rect x="286" y="1195" width="186" height="40"/><text x="379" y="1212.5">ilObjectPermissionStatus<tspan x="379" dy="15">GUI\availableRolesTable</tspan></text></g>
<g id="n174" class="n"><rect x="286" y="1261" width="186" height="40"/><text x="379" y="1278.5">ilObjectPermissionStatus<tspan x="379" dy="15">GUI\accessStatusInfo</tspan></text></g>
<g id="n175" class="n"><rect x="272" y="1352" width="214" height="26"/><text x="379" y="1370">ilObjGroup\getCountMembers</text></g>
<g id="n176" class="n"><rect x="294" y="1402" width="170" height="26"/><text x="379" y="1420">ilObjGroup\leaveGroup</text></g>
<g id="n177" class="n"><rect x="265" y="1464" width="228" height="40"/><text x="379" y="1481.5">ilObjGroup\cloneAutoGenerated<tspan x="379" dy="15">Roles</tspan></text></g>
<g id="n178" class="n"><rect x="286" y="1538" width="186" height="40"/><text x="379" y="1555.5">ilLearningSequenceRoles<tspan x="379" dy="15">\leaveLearningSequence</tspan></text></g>
<g id="n179" class="n"><rect x="272" y="1676" width="214" height="26"/><text x="379" y="1694">ilLearningSequenceRoles\join</text></g>
<g id="n180" class="n"><rect x="283" y="1837" width="192" height="40"/><text x="379" y="1854.5">ilSessionParticipantsTable<tspan x="379" dy="15">GUI\init</tspan></text></g>
<g id="n181" class="n"><rect x="291" y="1968" width="176" height="26"/><text x="379" y="1986">ilObjRoleGUI\editObject</text></g>
<g id="n182" class="n"><rect x="283" y="2551" width="192" height="40"/><text x="379" y="2568.5">ilLTIProviderObjectSetting<tspan x="379" dy="15">GUI\settings</tspan></text></g>
<g id="n183" class="n"><rect x="258" y="3186" width="242" height="40"/><text x="379" y="3203.5">ilMailMemberSearchDataProvider<tspan x="379" dy="15">\__construct</tspan></text></g>
<g id="n184" class="n"><rect x="276" y="3354" width="206" height="40"/><text x="379" y="3371.5">ilObjectRolePermissionTable<tspan x="379" dy="15">GUI\parse</tspan></text></g>
<g id="n185" class="n"><rect x="281" y="3419" width="196" height="40"/><text x="379" y="3436.5">ilObjAssessmentFolderGUI<tspan x="379" dy="15">\deleteLogObject</tspan></text></g>
<g id="n186" class="n"><rect x="281" y="3485" width="196" height="40"/><text x="379" y="3502.5">ilObjAssessmentFolderGUI<tspan x="379" dy="15">\exportLogObject</tspan></text></g>
<g id="n187" class="n"><rect x="281" y="3550" width="196" height="40"/><text x="379" y="3567.5">ilObjAssessmentFolderGUI<tspan x="379" dy="15">\showLogObject</tspan></text></g>
<g id="n188" class="n"><rect x="286" y="3733" width="186" height="40"/><text x="379" y="3750.5">ilObjSurvey\getQuestions<tspan x="379" dy="15">Table</tspan></text></g>
<g id="n189" class="n"><rect x="279" y="3929" width="200" height="40"/><text x="379" y="3946.5">ilObjTestGUI\executeCreate<tspan x="379" dy="15">QuestionObject</tspan></text></g>
<g id="n190" class="n"><rect x="279" y="4097" width="200" height="40"/><text x="379" y="4114.5">ilTestQuestionBrowserTable<tspan x="379" dy="15">GUI\getQuestionsData</tspan></text></g>
<g id="n191" class="n"><rect x="255" y="4286" width="248" height="26"/><text x="379" y="4304">ilMembershipCronNotifications\run</text></g>
<g id="n192" class="n"><rect x="312" y="4651" width="134" height="40"/><text x="379" y="4668.5">ilObjectDefinition<tspan x="379" dy="15">\__construct</tspan></text></g>
<g id="n193" class="n"><rect x="13" y="1195" width="186" height="40"/><text x="106" y="1212.5">ilObjectPermissionStatus<tspan x="106" dy="15">GUI\perminfo</tspan></text></g>
<g id="n194" class="n"><rect x="13" y="1669" width="186" height="40"/><text x="106" y="1686.5">ilLearningSequenceRoles<tspan x="106" dy="15">\addLSMember</tspan></text></g>
<g id="n195" class="n"><rect x="11" y="2580" width="190" height="40"/><text x="106" y="2597.5">ilLTIProviderObjectSetting<tspan x="106" dy="15">GUI\updateSettings</tspan></text></g>
<g id="n196" class="n"><rect x="6" y="4097" width="200" height="40"/><text x="106" y="4114.5">ilTestQuestionBrowserTable<tspan x="106" dy="15">GUI\browseQuestionsCmd</tspan></text></g>
</g>
</svg>
